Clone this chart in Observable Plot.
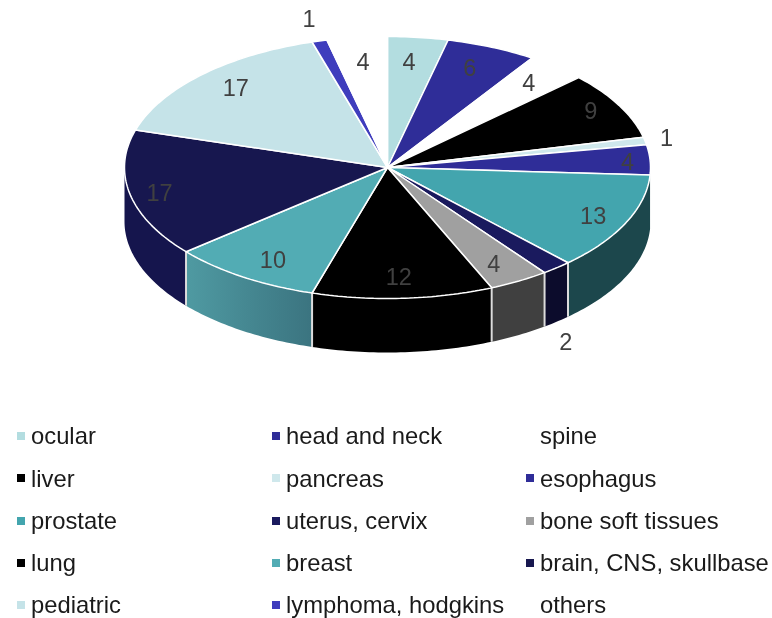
<!DOCTYPE html>
<html>
<head>
<meta charset="utf-8">
<script src="https://cdn.jsdelivr.net/npm/d3@7"></script>
<script src="https://cdn.jsdelivr.net/npm/@observablehq/plot@0.6"></script>
<style>
html,body{margin:0;background:#fff;}
body{width:772px;height:618px;overflow:hidden;font-family:"Liberation Sans",Arial,sans-serif;}
#chart svg{display:block;}
#chart{filter:blur(.35px);}
#legend{display:grid;grid-template-columns:255px 254px 235px;grid-auto-rows:42.3px;padding:5px 0 0 17px;color:#1a1a1a;font-size:23.8px;filter:blur(.3px);}
#legend div{display:flex;align-items:center;white-space:nowrap;line-height:1;}
#legend i{width:8px;height:8px;margin-right:6px;flex:none;}
</style>
</head>
<body>
<div id="chart"></div>
<div id="legend"></div>
<script>
const categories = ["ocular","head and neck","spine","liver","pancreas","esophagus","prostate","uterus, cervix","bone soft tissues","lung","breast","brain, CNS, skullbase","pediatric","lymphoma, hodgkins","others"];
const values = [4,6,4,9,1,4,13,2,4,12,10,17,17,1,4];
const topColors = ["#b3dde0","#2f2d98","#ffffff","#000000","#cfe8ec","#2f2d98","#43a5ae","#1a1a5e","#a0a0a0","#000000","#52acb4","#17174f","#c5e3e8","#3f3dbd","#ffffff"];
const sideColors = ["#b3dde0","#2f2d98","#ffffff","#000000","#cfe8ec","#2f2d98","#1c474c","#0c0c2c","#404040","#000000","url(#breastSide)","#15154d","#c5e3e8","#3f3dbd","#ffffff"];
const labelDx = [-3,-1,6,18,73,30,15,43,1,-1,1,-22,-3,-24,0];
const labelDy = [-1,-3,-4,-6,-8,1,5,95,6,5,5,5,-5,-47,-1];

const depth = 0.412, labelRadius = 0.8, arcStep = 1;
const total = d3.sum(values);
const ends = d3.cumsum(values);
const angle = v => v / total * 2 * Math.PI;
const px = (a, r = 1) => r * Math.sin(a);
const py = (a, r = 1) => r * Math.cos(a);

const slices = values.map((v, i) => ({
  name: categories[i], value: v, i,
  a0: angle(ends[i] - v), a1: angle(ends[i]), mid: angle(ends[i] - v / 2)
}));
const arc = (a0, a1) => {
  const n = Math.max(2, Math.ceil((a1 - a0) * 180 / Math.PI / arcStep));
  return d3.range(n + 1).map(k => a0 + (a1 - a0) * k / n);
};

const topPts = slices.flatMap(s => [
  {x: 0, y: 0, i: s.i},
  ...arc(s.a0, s.a1).map(a => ({x: px(a), y: py(a), i: s.i})),
  {x: 0, y: 0, i: s.i}
]);
const sideSlices = slices.filter(s => s.a0 >= Math.PI / 2 && s.a0 < 3 * Math.PI / 2).map(s => ({...s,
  b0: s.a0, b1: Math.min(s.a1, 3 * Math.PI / 2)
}));
const sidePts = sideSlices.flatMap(s => {
  const as = arc(s.b0, s.b1);
  return [
    ...as.map(a => ({x: px(a), y: py(a), i: s.i})),
    ...as.slice().reverse().map(a => ({x: px(a), y: py(a) - depth, i: s.i}))
  ];
});
const seams = sideSlices.slice(1).map(s => ({
  x: px(s.a0), y1: py(s.a0), y2: py(s.a0) - depth
}));

const gradient = () => {
  const ns = "http://www.w3.org/2000/svg";
  const defs = document.createElementNS(ns, "defs");
  const g = document.createElementNS(ns, "linearGradient");
  g.setAttribute("id", "breastSide");
  [["0%", "#4f9aa2"], ["100%", "#3b7480"]].forEach(([o, c]) => {
    const st = document.createElementNS(ns, "stop");
    st.setAttribute("offset", o); st.setAttribute("stop-color", c);
    g.appendChild(st);
  });
  defs.appendChild(g);
  return defs;
};

const chart = Plot.plot({
  width: 772, height: 410,
  margin: 0,
  x: {domain: [-1, 1], range: [124, 650], axis: null},
  y: {domain: [-1, 1], range: [298, 36], axis: null},
  marks: [
    gradient,
    ...sideSlices.map(s => Plot.line(sidePts.filter(p => p.i === s.i), {
      x: "x", y: "y", fill: sideColors[s.i], stroke: "none"
    })),
    Plot.link(seams, {x1: "x", x2: "x", y1: "y1", y2: "y2", stroke: "#dcdcdc", strokeWidth: 2}),
    ...slices.map(s => Plot.line(topPts.filter(p => p.i === s.i), {
      x: "x", y: "y", fill: topColors[s.i], stroke: "#ffffff", strokeWidth: 1.5, strokeLinejoin: "miter"
    })),
    ...slices.map(s => Plot.text([s], {
      x: d => px(d.mid, labelRadius), y: d => py(d.mid, labelRadius), text: "value",
      dx: labelDx[s.i], dy: labelDy[s.i],
      fill: "#404040", fontSize: 23.5, fontFamily: "Liberation Sans"
    }))
  ]
});
document.getElementById("chart").append(chart);

const legend = document.getElementById("legend");
categories.forEach((c, i) => {
  const d = document.createElement("div");
  const sw = document.createElement("i");
  sw.style.background = topColors[i];
  d.append(sw, c);
  legend.append(d);
});
</script>
</body>
</html>
